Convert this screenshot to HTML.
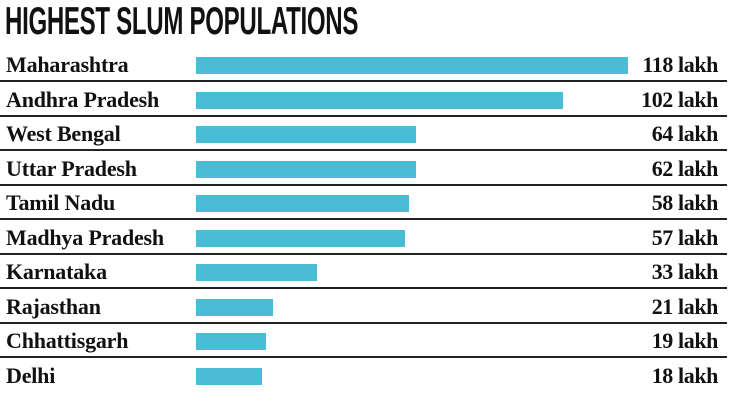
<!DOCTYPE html>
<html><head><style>
body{margin:0;width:733px;height:402px;background:#fff;position:relative;overflow:hidden;font-family:"Liberation Serif",serif;color:#111}
.t{position:absolute;left:5px;top:0px;font-family:"Liberation Sans Narrow","Liberation Sans",sans-serif;font-weight:bold;font-size:39px;letter-spacing:-0.5px;transform:scaleX(0.617);transform-origin:left top;white-space:nowrap;color:#111}
.l{position:absolute;left:6px;font-weight:bold;font-size:22px;letter-spacing:-0.2px;line-height:22px}
.v{position:absolute;right:15px;font-weight:bold;font-size:22px;letter-spacing:-0.4px;line-height:22px;text-align:right}
.b{position:absolute;left:196px;height:17px;background:#4bbcd6}
.s{position:absolute;left:0;width:727px;height:1.5px;background:#222}
</style></head><body>
<div class="t">HIGHEST SLUM POPULATIONS</div>
<div id="c"></div>
<script>
var d=[["Maharashtra",628,"118 lakh"],["Andhra Pradesh",563,"102 lakh"],["West Bengal",416,"64 lakh"],["Uttar Pradesh",416,"62 lakh"],["Tamil Nadu",409,"58 lakh"],["Madhya Pradesh",405,"57 lakh"],["Karnataka",317,"33 lakh"],["Rajasthan",273,"21 lakh"],["Chhattisgarh",266,"19 lakh"],["Delhi",262,"18 lakh"]];
var h="";
d.forEach(function(r,i){var c=Math.round(66+34.5*i);
h+='<div class="l" style="top:'+(c-12)+'px">'+r[0]+'</div>';
h+='<div class="b" style="top:'+(c-9)+'px;width:'+(r[1]-196)+'px"></div>';
h+='<div class="v" style="top:'+(c-12)+'px">'+r[2]+'</div>';
if(i<9)h+='<div class="s" style="top:'+(c+14)+'px"></div>';});
document.getElementById("c").innerHTML=h;
</script>
</body></html>
